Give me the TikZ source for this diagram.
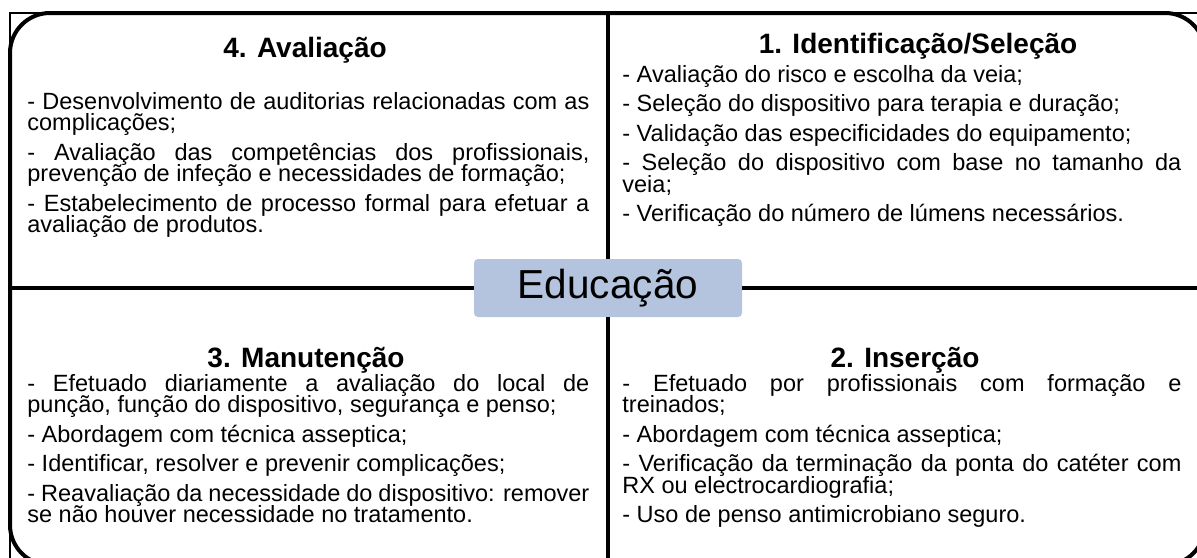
\documentclass[tikz,border=0pt]{standalone}
\usepackage{fontspec}
\setmainfont{Liberation Sans}
\definecolor{eduBlue}{RGB}{180,196,222}
\newcommand{\itemgap}{\par\vspace{4pt}}
\newcommand{\tightlines}{\lineskiplimit=-20pt\relax}
\begin{document}
\begin{tikzpicture}
[x=0.5pt,y=-0.5pt,%
  frameLine/.style={line width=2pt},%
  thinLine/.style={line width=0.6pt},%
  titleText/.style={font=\fontsize{14}{17}\selectfont\bfseries,inner sep=0pt,anchor=base},%
  bodyText/.style={font={\fontsize{11.75}{10.75}\selectfont\tightlines},align=justify,inner sep=0pt,anchor=base west},%
  eduBox/.style={fill=eduBlue,rounded corners=2pt,minimum width=134pt,minimum height=29pt,inner sep=0pt,font=\fontsize{20.25}{24}\selectfont}]
\useasboundingbox (0,0) rectangle (1197,557);
\clip (0,0) rectangle (1197,557);
%% frame corners and ends of the cross
\coordinate (tl) at (10,13);
\coordinate (br) at (1205,565);
\coordinate (topmid) at (608,13);
\coordinate (botmid) at (608,565);
\coordinate (leftmid) at (10,288);
\coordinate (rightmid) at (1205,288);
%% outer frame
\draw[thinLine] (tl) rectangle (br);
\draw[frameLine,rounded corners=20pt] (tl) rectangle (br);
%% centre box
\node[eduBox] (edu) at (608,288) {Educação};
%% cross lines
\foreach \endpoint/\side in {topmid/north, botmid/south, leftmid/west, rightmid/east}
{
  \draw[frameLine] (\endpoint) -- (edu.\side);
}
%% titles
\foreach \nodename/\x/\y/\txt in {avaltitle/305/57.5/{4. Avaliação}, identtitle/918/53.5/{1. Identificação/Seleção}, manuttitle/306/367.5/{3. Manutenção}, insertitle/905/367.5/{2. Inserção}}
{
  \node[titleText] (\nodename) at (\x,\y) {\txt};
}
%% texts of the quadrants
\node[bodyText,text width=281pt] (avaltext) at (27,109) {%
- Desenvolvimento de auditorias relacionadas com as \linebreak complicações;\itemgap
- Avaliação das competências dos profissionais, \linebreak prevenção de infeção e necessidades de formação;\itemgap
- Estabelecimento de processo formal para efetuar a \linebreak avaliação de produtos.};
\node[bodyText,text width=279.5pt] (identtext) at (622,82) {%
- Avaliação do risco e escolha da veia;\itemgap
- Seleção do dispositivo para terapia e duração;\itemgap
- Validação das especificidades do equipamento;\itemgap
- Seleção do dispositivo com base no tamanho da \linebreak veia;\itemgap
- Verificação do número de lúmens necessários.};
\node[bodyText,text width=281pt] (manuttext) at (27,391) {%
- Efetuado diariamente a avaliação do local de \linebreak punção, função do dispositivo, segurança e penso;\itemgap
- Abordagem com técnica asseptica;\itemgap
- Identificar, resolver e prevenir complicações;\itemgap
- Reavaliação da necessidade do dispositivo: remover \linebreak se não houver necessidade no tratamento.};
\node[bodyText,text width=279.5pt] (insertext) at (622,391) {%
- Efetuado por profissionais com formação e \linebreak treinados;\itemgap
- Abordagem com técnica asseptica;\itemgap
- Verificação da terminação da ponta do catéter com \linebreak RX ou electrocardiografia;\itemgap
- Uso de penso antimicrobiano seguro.};
\end{tikzpicture}
\end{document}
